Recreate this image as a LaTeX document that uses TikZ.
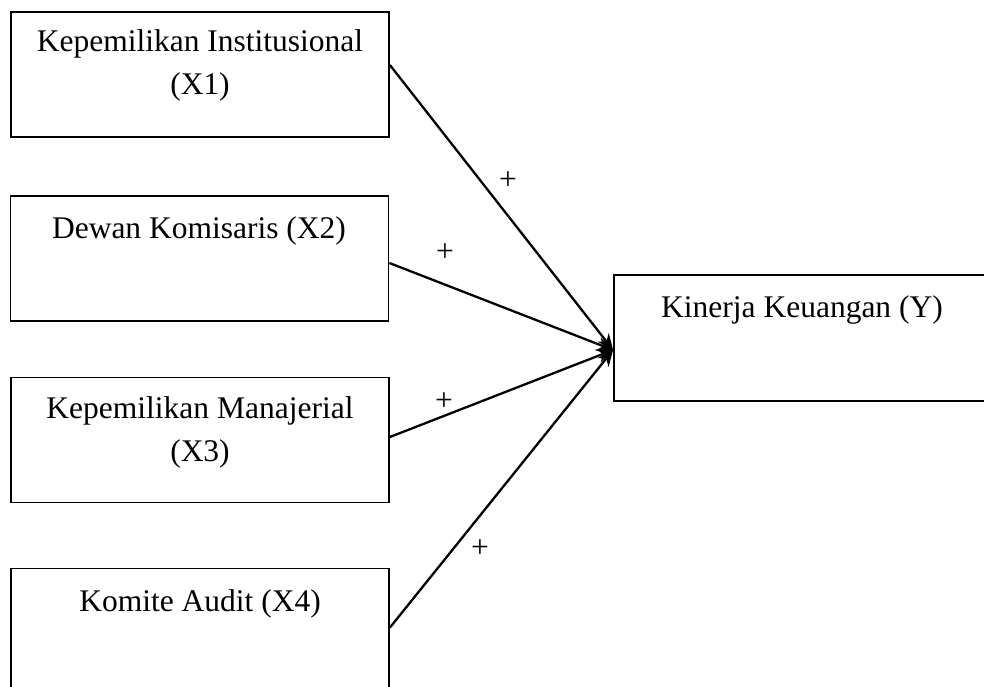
\documentclass[tikz,border=0pt]{standalone}
\usepackage{fontspec}
\setmainfont{Liberation Serif}
\usetikzlibrary{arrows.meta}
\tikzset{
  varbox/.style={draw, line width=1.8pt, inner sep=0pt, minimum width=378pt, minimum height=125pt},
  txt/.style={font=\fontsize{31.5pt}{42pt}\selectfont, inner sep=0pt, anchor=base},
  sign/.style={font=\fontsize{31.5pt}{36pt}\selectfont, inner sep=0pt},
  link/.style={line width=2.3pt, -{Stealth[length=16pt,width=14pt]}}
}
\begin{document}
\begin{tikzpicture}[x=1pt,y=-1pt]
\useasboundingbox (0,0) rectangle (984,687);
\clip (0,0) rectangle (984,687);
% boxes
\node[varbox] (x1) at (200,74.5) {};
\node[varbox] (x2) at (199.5,258.5) {};
\node[varbox] (x3) at (200,440) {};
\node[varbox] (x4) at (200,631) {};
\node[varbox, minimum width=376pt, minimum height=126pt] (y) at (802,338) {};
% texts
\node[txt] (x1a) at (200,52) {Kepemilikan Institusional};
\node[txt] (x1b) at (200,95) {(X1)};
\node[txt] (x2a) at (199,238) {Dewan Komisaris (X2)};
\node[txt] (x3a) at (200,418) {Kepemilikan Manajerial};
\node[txt] (x3b) at (200,461) {(X3)};
\node[txt] (x4a) at (200,611) {Komite Audit (X4)};
\node[txt] (ya) at (802,317) {Kinerja Keuangan (Y)};
% target point
\coordinate (t) at ([yshift=-12pt]y.west);
% connectors
\draw[link] ([yshift=9.5pt]x1.east) -- (t);
\draw[link] ([yshift=-4.5pt]x2.east) -- (t);
\draw[link] ([yshift=3pt]x3.east) -- (t);
\draw[link] ([yshift=-60pt]x4.north east) -- (t);
% signs
\node[sign] (s1) at (508,181) {+};
\node[sign] (s2) at (445,253) {+};
\node[sign] (s3) at (444,402) {+};
\node[sign] (s4) at (480,549) {+};
\end{tikzpicture}
\end{document}
